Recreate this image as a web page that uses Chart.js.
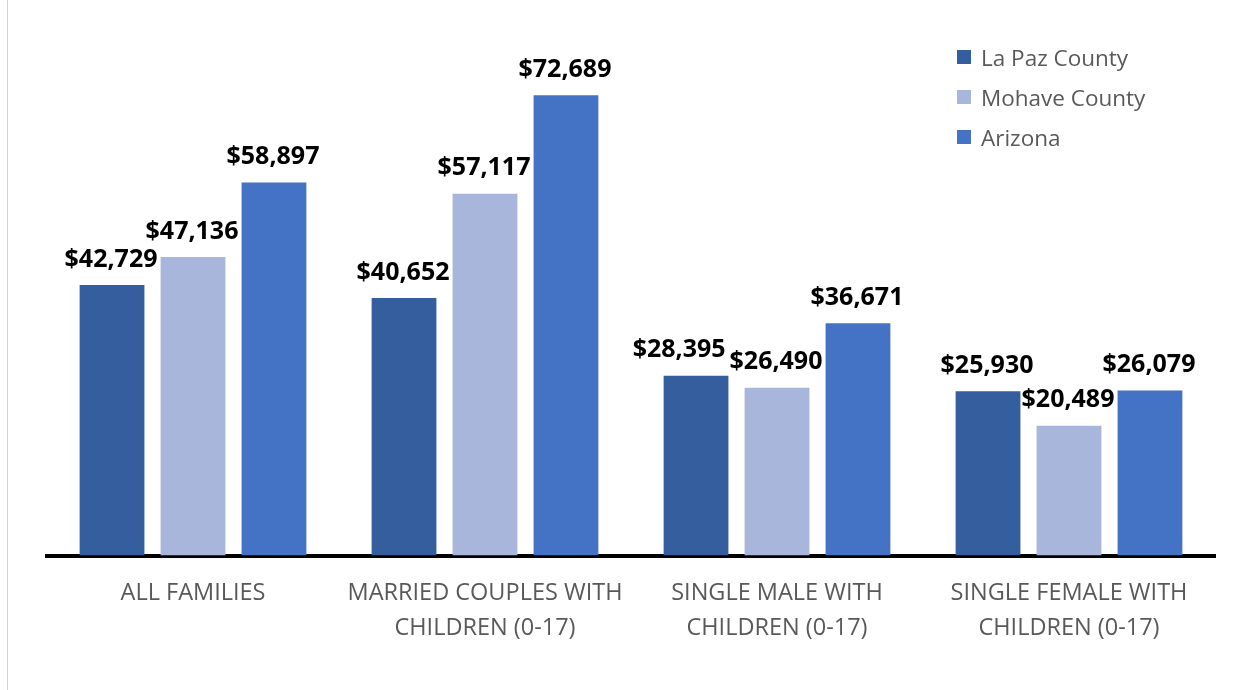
<!DOCTYPE html>
<html>
<head>
<meta charset="utf-8">
<script src="https://cdn.jsdelivr.net/npm/chart.js@4.4.0/dist/chart.umd.min.js"></script>
<style>
  html, body { margin: 0; padding: 0; background: #fff; }
  #wrap { position: relative; width: 1244px; height: 690px; }
  #edge { position: absolute; left: 7px; top: 0; width: 1px; height: 690px; background: #d4d4d4; }
  #legend { position: absolute; left: 957px; top: 37px; font-family: "Open Sans", sans-serif; font-size: 22.5px; color: #595959; }
  #legend div { height: 40px; display: flex; align-items: center; }
  #legend span.box { width: 14px; height: 14px; margin-right: 10px; display: inline-block; }
</style>
</head>
<body>
<div id="wrap">
  <canvas id="incomeChart" width="1244" height="690"></canvas>
  <div id="edge"></div>
  <div id="legend"></div>
</div>
<script>
const categories = [
  'ALL FAMILIES',
  ['MARRIED COUPLES WITH', 'CHILDREN (0-17)'],
  ['SINGLE MALE WITH', 'CHILDREN (0-17)'],
  ['SINGLE FEMALE WITH', 'CHILDREN (0-17)']
];
const seriesNames = ['La Paz County', 'Mohave County', 'Arizona'];
const laPaz = [42729, 40652, 28395, 25930];
const mohave = [47136, 57117, 26490, 20489];
const arizona = [58897, 72689, 36671, 26079];
const colors = ['#355E9F', '#A8B6DB', '#4472C4'];

// dollar labels above each bar, nudged left when they would run into the next one
const valueLabels = {
  id: 'valueLabels',
  afterDatasetsDraw(chart) {
    const ctx = chart.ctx;
    ctx.save();
    ctx.font = 'bold 25px "Open Sans", sans-serif';
    ctx.fillStyle = '#000';
    ctx.textAlign = 'center';
    ctx.textBaseline = 'bottom';
    const n = chart.data.labels.length;
    for (let j = 0; j < n; j++) {
      const items = chart.data.datasets.map((ds, i) => {
        const bar = chart.getDatasetMeta(i).data[j];
        const text = '$' + ds.data[j].toLocaleString('en-US');
        return { text, x: bar.x - 1, y: bar.y - 13, w: ctx.measureText(text).width };
      });
      for (let i = items.length - 1; i > 0; i--) {
        const a = items[i - 1], b = items[i];
        const gap = (b.x - b.w / 2) - (a.x + a.w / 2);
        if (gap < 4 && Math.abs(a.y - b.y) < 26) a.x += gap - 4;
      }
      items.forEach(it => ctx.fillText(it.text, it.x, it.y));
    }
    ctx.restore();
  }
};

const legendDiv = document.getElementById('legend');
legendDiv.innerHTML = seriesNames
  .map((name, i) => `<div><span class="box" style="background:${colors[i]}"></span>${name}</div>`)
  .join('');

new Chart(document.getElementById('incomeChart'), {
  type: 'bar',
  data: {
    labels: categories,
    datasets: [
      { label: seriesNames[0], data: laPaz, backgroundColor: colors[0] },
      { label: seriesNames[1], data: mohave, backgroundColor: colors[1] },
      { label: seriesNames[2], data: arizona, backgroundColor: colors[2] }
    ]
  },
  options: {
    responsive: false,
    animation: false,
    categoryPercentage: 0.832,
    barPercentage: 0.8,
    layout: { padding: { left: 47, right: 29, top: 11, bottom: 24 } },
    scales: {
      x: {
        grid: { display: false, drawTicks: false },
        border: { display: true, color: '#000', width: 4 },
        ticks: {
          color: '#595959',
          padding: 20,
          maxRotation: 0,
          autoSkip: false,
          font: { family: '"Open Sans", sans-serif', size: 23.5, lineHeight: 1.5 }
        }
      },
      y: {
        display: false,
        min: 0,
        max: 86000
      }
    },
    plugins: {
      legend: { display: false },
      tooltip: { enabled: false }
    }
  },
  plugins: [valueLabels]
});
</script>
</body>
</html>
